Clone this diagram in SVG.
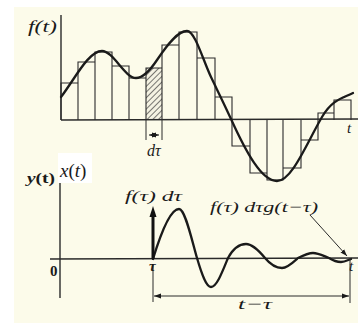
<svg xmlns="http://www.w3.org/2000/svg" width="358" height="323" viewBox="0 0 358 323">
<defs>
<style>
.ax{stroke:#2a2a2a;stroke-width:1.4;fill:none}
.bar{stroke:#2a2a2a;stroke-width:1.1;fill:none}
.crv{stroke:#1a1a1a;stroke-width:2.3;fill:none;stroke-linecap:round}
.thin{stroke:#2a2a2a;stroke-width:1;fill:none}
.lbl{font-family:"Liberation Serif","DejaVu Serif",serif;font-style:italic;fill:#1a1a1a}
</style>
<pattern id="hatch" width="4" height="4" patternUnits="userSpaceOnUse" patternTransform="rotate(45)">
<rect width="4" height="4" fill="#f4f2e2"/>
<line x1="0" y1="0" x2="0" y2="4" stroke="#333" stroke-width="1.3"/>
</pattern>
<marker id="ah" viewBox="0 0 10 10" refX="10" refY="5" markerWidth="7" markerHeight="7" orient="auto-start-reverse" markerUnits="userSpaceOnUse">
<path d="M0,1.5 L10,5 L0,8.5 Z" fill="#1a1a1a"/>
</marker>
</defs>
<rect width="358" height="323" fill="#ffffff"/>
<rect x="14" y="7" width="344" height="316" fill="#fcfbea"/>

<g id="top-plot">
<rect x="146" y="68" width="16" height="52" fill="url(#hatch)"/>
<g class="bar">
<path d="M61,120 V83 H78 V120 M78,83 V62 H95 V120 M95,62 V52 H112 V120 M112,52 V66 H129 V120 M129,66 V78 H146 V120 M146,78 V68 H162 V120 M162,68 V45 H179 V120 M179,45 V32 H197 V120 M197,32 V58 H215 V120 M215,58 V97 H232 V120"/>
<path d="M232,120 V146 H250 V120 M250,146 V173 H267 V120 M267,173 V180 H283 V120 M283,180 V168 H301 V120 M301,168 V140 H318 V120"/>
<path d="M318,120 V113 H334 V120 M334,113 V100 H351 V120"/>
</g>
<line class="ax" x1="61" y1="15" x2="61" y2="120"/>
<line class="ax" x1="61" y1="120" x2="358" y2="119"/>
<path class="crv" d="M61,97 C74.7,79.2 88.3,51 102,51 C113.3,51 124.7,78 136,78 C143,78 150,70.5 157,60 C167.3,44.5 177.7,31 187,31 C195,31 203,60.2 211,77 C217.7,91 224.3,104.3 231,119 C246.3,152.7 261.7,181 277,181 C292,181 307,142.5 322,117 C332.3,99.4 342.7,98.2 353,93"/>
<line class="thin" x1="146" y1="120" x2="146" y2="140"/>
<line class="thin" x1="162" y1="120" x2="162" y2="140"/>
<line class="thin" x1="149" y1="135" x2="159" y2="135" marker-start="url(#ah)" marker-end="url(#ah)"/>
<text class="lbl" x="28" y="32" font-size="17" textLength="29" lengthAdjust="spacingAndGlyphs">f(t)</text>
<text class="lbl" x="147" y="156" font-size="16">dτ</text>
<text class="lbl" x="347" y="133" font-size="15">t</text>
</g>

<g id="bottom-plot">
<line class="ax" x1="60" y1="183" x2="60" y2="298"/>
<line class="ax" x1="50" y1="259" x2="358" y2="258"/>
<path class="crv" d="M153,259 C160,236 170,209 179,209 C185,209 191,237 197,258 C201.7,274 206.3,287 211,287 C216.7,287 222.3,272 228,258 C234,247 240,244 246,244 C252.3,244 258.7,250.4 265,258 C270.7,264.8 276.3,268 282,268 C287.3,268 292.7,262.8 298,258 C303,255.5 308,253 313,253 C318.3,253 323.7,256 329,258 C333,260.5 337,262 341,262 C345,262 348,260 351,259"/>
<line x1="153" y1="259" x2="153" y2="215" stroke="#111" stroke-width="3"/>
<path d="M149.5,217 L153,206 L156.5,217 Z" fill="#111"/>
<line class="thin" x1="153" y1="265" x2="153" y2="302"/>
<line class="thin" x1="350" y1="258" x2="350" y2="303"/>
<line class="thin" x1="154" y1="296" x2="349" y2="296" marker-start="url(#ah)" marker-end="url(#ah)"/>
<line class="thin" x1="310" y1="215" x2="347" y2="256" marker-end="url(#ah)"/>
<rect x="58" y="153" width="34" height="30" fill="#ffffff"/>
<text x="60" y="177" font-family="Liberation Serif, DejaVu Serif, serif" font-size="19" fill="#1a1a1a"><tspan font-style="italic">x</tspan>(<tspan font-style="italic">t</tspan>)</text>
<text x="27" y="183" font-family="Liberation Serif, DejaVu Serif, serif" font-size="15" font-weight="bold" fill="#1a1a1a" textLength="28" lengthAdjust="spacingAndGlyphs"><tspan font-style="italic">y</tspan>(t)</text>
<text x="50" y="276" font-family="Liberation Serif, DejaVu Serif, serif" font-size="15" font-weight="bold" fill="#1a1a1a">0</text>
<text class="lbl" x="149" y="271" font-size="15" font-weight="bold">τ</text>
<text class="lbl" x="125" y="201" font-size="15" textLength="57" lengthAdjust="spacingAndGlyphs">f(τ) dτ</text>
<text class="lbl" x="210" y="212" font-size="15" textLength="108" lengthAdjust="spacingAndGlyphs">f(τ) dτg(t−τ)</text>
<text class="lbl" x="349" y="271" font-size="15">t</text>
<text class="lbl" x="238" y="309" font-size="15" textLength="34" lengthAdjust="spacingAndGlyphs">t−τ</text>
</g>
</svg>
